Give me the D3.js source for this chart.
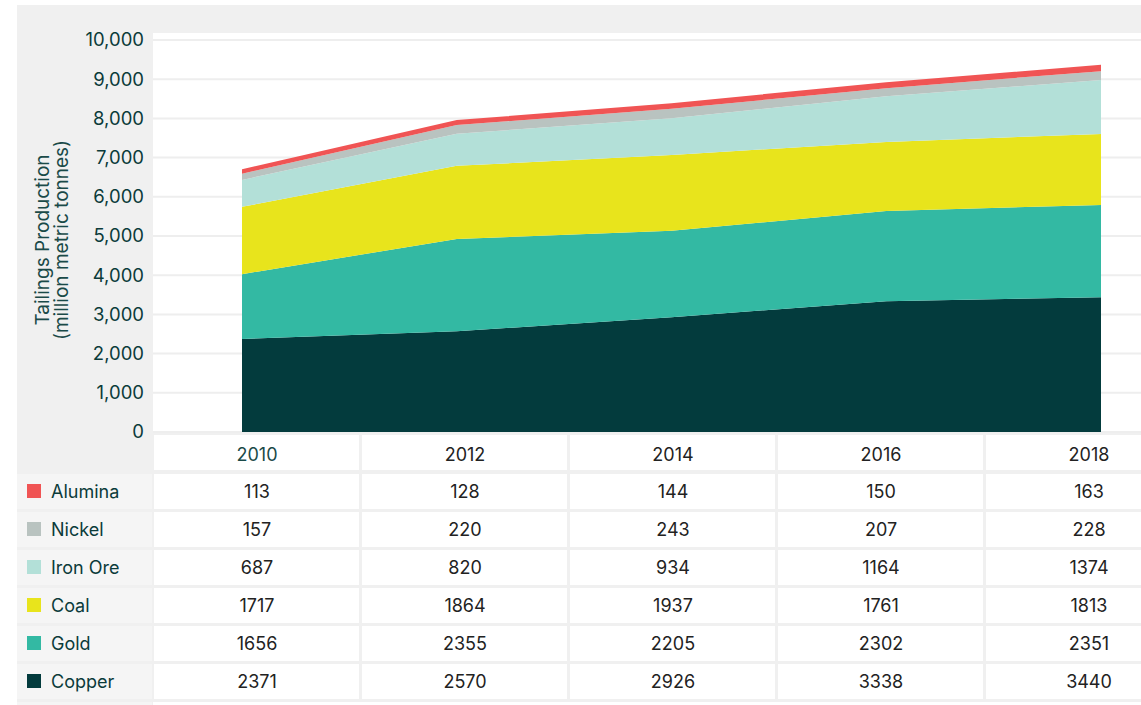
<!DOCTYPE html>
<html>
<head>
<meta charset="utf-8">
<script src="https://cdn.jsdelivr.net/npm/d3@7"></script>
<style>
  body { margin: 0; background: #fff; }
  svg text { font-family: Inter, "Liberation Sans", sans-serif; }
</style>
</head>
<body>
<script>
const years = ["2010", "2012", "2014", "2016", "2018"];
const keys = ["Copper", "Gold", "Coal", "Iron Ore", "Nickel", "Alumina"];
const copper  = [2371, 2570, 2926, 3338, 3440];
const gold    = [1656, 2355, 2205, 2302, 2351];
const coal    = [1717, 1864, 1937, 1761, 1813];
const ironOre = [687, 820, 934, 1164, 1374];
const nickel  = [157, 220, 243, 207, 228];
const alumina = [113, 128, 144, 150, 163];
const yTicks = [0, 1000, 2000, 3000, 4000, 5000, 6000, 7000, 8000, 9000, 10000];
const colors = {
  "Copper": "#033b3d", "Gold": "#33b9a3", "Coal": "#e8e41c",
  "Iron Ore": "#b3e0d8", "Nickel": "#b9c3c0", "Alumina": "#f05454"
};
const series = {"Copper": copper, "Gold": gold, "Coal": coal, "Iron Ore": ironOre, "Nickel": nickel, "Alumina": alumina};
const tableOrder = ["Alumina", "Nickel", "Iron Ore", "Coal", "Gold", "Copper"];

const width = 1141, height = 705;
const plot = {left: 153, top: 33, bottom: 433};

const data = years.map((y, i) => {
  const row = {year: y};
  keys.forEach(k => { row[k] = series[k][i]; });
  return row;
});

const svg = d3.select("body").append("svg")
  .attr("width", width)
  .attr("height", height);

// gray panel
svg.append("rect").attr("x", 17).attr("y", 5).attr("width", width - 17).attr("height", height - 5).attr("fill", "#f0f0f0");
svg.append("rect").attr("x", plot.left).attr("y", plot.top).attr("width", width - plot.left).attr("height", plot.bottom - plot.top).attr("fill", "#fff");

const x = d3.scalePoint().domain(years).range([242, 1101]);
const y = d3.scaleLinear().domain([0, 10000]).range([432, 40]);

// grid
svg.append("g").selectAll("line")
  .data(yTicks)
  .enter().append("line")
  .attr("x1", plot.left).attr("x2", width)
  .attr("y1", d => y(d)).attr("y2", d => y(d))
  .attr("stroke", "#eeeeee").attr("stroke-width", 2);

// y axis labels
const yaxis = d3.axisLeft(y).tickValues(yTicks).tickFormat(d3.format(",")).tickSize(0).tickPadding(0);
const ya = svg.append("g").attr("transform", "translate(144,0)").call(yaxis);
ya.select(".domain").remove();
ya.selectAll("text").attr("font-size", 18.5).attr("fill", "#0b3b3a").attr("font-family", "Inter, sans-serif");

svg.append("text")
  .attr("transform", "translate(49,240) rotate(-90)")
  .attr("text-anchor", "middle").attr("font-size", 19).attr("fill", "#1a4a48")
  .text("Tailings Production");
svg.append("text")
  .attr("transform", "translate(68,240) rotate(-90)")
  .attr("text-anchor", "middle").attr("font-size", 19).attr("fill", "#1a4a48")
  .text("(million metric tonnes)");

// stacked areas
const stack = d3.stack().keys(keys);
const layers = stack(data);
const area = d3.area()
  .x(d => x(d.data.year))
  .y0(d => y(d[0]))
  .y1(d => y(d[1]));

svg.append("g").selectAll("path")
  .data(layers)
  .enter().append("path")
  .attr("d", area)
  .attr("fill", d => colors[d.key]);

// table
const col = d3.scaleBand().domain(years).range([plot.left, plot.left + 208 * years.length]);
const rowY = d3.scaleBand().domain(["header"].concat(tableOrder)).range([434, 434 + 38 * 7]);

const header = svg.append("g");
header.selectAll("rect")
  .data(years)
  .enter().append("rect")
  .attr("x", d => col(d) + 1).attr("y", 435)
  .attr("width", col.bandwidth() - 3).attr("height", 35)
  .attr("fill", "#fff");
header.selectAll("text")
  .data(years)
  .enter().append("text")
  .attr("x", d => col(d) + col.bandwidth() / 2)
  .attr("y", 461)
  .attr("text-anchor", "middle").attr("font-size", 18)
  .attr("fill", (d, i) => i === 0 ? "#1a4a48" : "#222")
  .text(d => d);

const rows = svg.append("g").selectAll("g")
  .data(tableOrder)
  .enter().append("g")
  .attr("transform", d => `translate(0,${rowY(d)})`);

rows.append("rect")
  .attr("x", 17).attr("y", 2).attr("width", 135).attr("height", 35)
  .attr("fill", "#f5f5f5");
rows.append("rect")
  .attr("x", 27).attr("y", 12).attr("width", 14).attr("height", 14)
  .attr("fill", d => colors[d]);
rows.append("text")
  .attr("x", 51).attr("y", 26)
  .attr("font-size", 18).attr("fill", "#0b3b3a")
  .text(d => d);

rows.each(function(k) {
  const g = d3.select(this);
  g.selectAll("rect.cell")
    .data(series[k])
    .enter().append("rect")
    .attr("class", "cell")
    .attr("x", (d, i) => col(years[i]) + 1).attr("y", 2)
    .attr("width", col.bandwidth() - 3).attr("height", 35)
    .attr("fill", "#fff");
  g.selectAll("text.val")
    .data(series[k])
    .enter().append("text")
    .attr("class", "val")
    .attr("x", (d, i) => col(years[i]) + col.bandwidth() / 2)
    .attr("y", 26)
    .attr("text-anchor", "middle").attr("font-size", 18).attr("fill", "#222")
    .text(d => d);
});

// trailing row stub
svg.append("rect").attr("x", 17).attr("y", 434 + 38 * 7 + 2).attr("width", 135).attr("height", 10).attr("fill", "#f5f5f5");
svg.append("rect").attr("x", plot.left).attr("y", 434 + 38 * 7 + 2).attr("width", width - plot.left).attr("height", 10).attr("fill", "#fff");
</script>
</body>
</html>
